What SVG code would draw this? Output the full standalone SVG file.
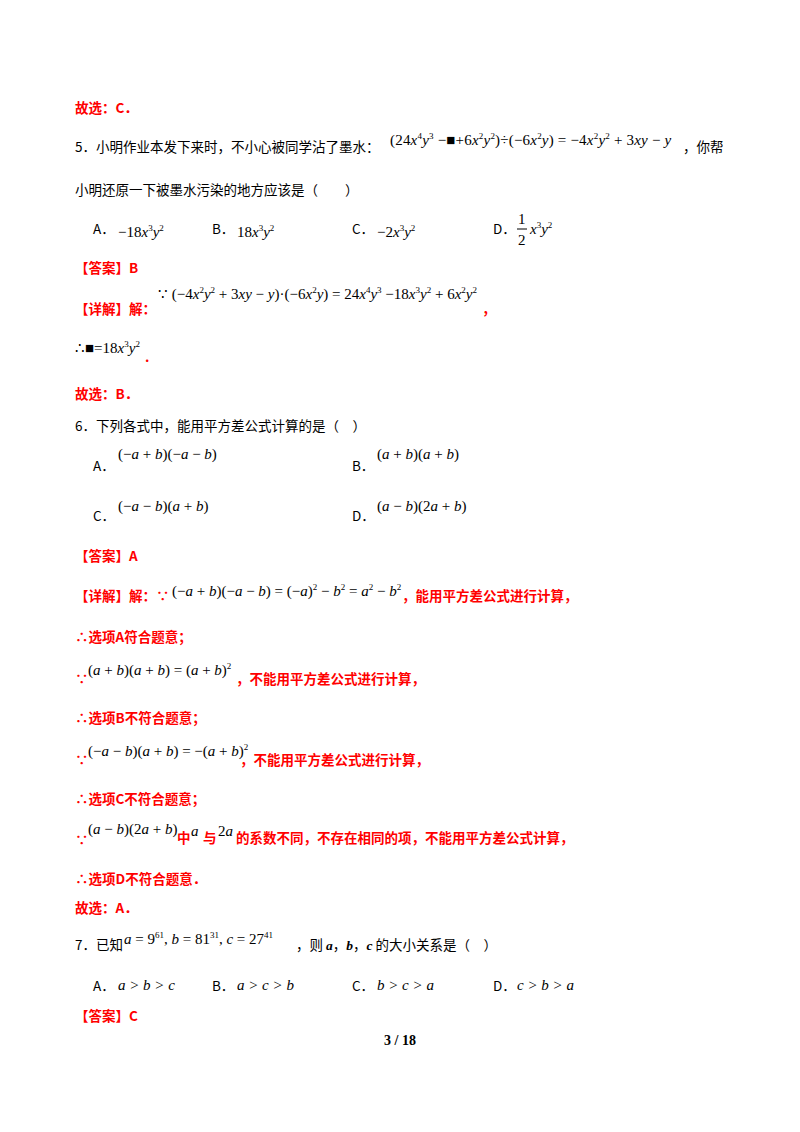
<svg xmlns="http://www.w3.org/2000/svg" width="800" height="1132" viewBox="0 0 800 1132">
<style>
.c{font-family:"Noto Sans CJK SC","Noto Sans",sans-serif;font-size:13.5px;fill:#000}
.r{fill:#ff0000;font-weight:bold}
.m{font-family:"Liberation Serif",serif;font-size:15px;fill:#000}
.i{font-style:italic}
.s{font-size:9px}
</style>
<rect width="800" height="1132" fill="#fff"/>
<text class="c r" x="75" y="113">故选：C．</text>
<text class="c" x="75" y="152">5．小明作业本发下来时，不小心被同学沾了墨水：</text>
<text class="m" x="390" y="145" letter-spacing="0.2">(24<tspan class="i">x</tspan><tspan class="s" dy="-6">4</tspan><tspan class="i" dy="6">y</tspan><tspan class="s" dy="-6">3</tspan><tspan dy="6"> −■+6</tspan><tspan class="i">x</tspan><tspan class="s" dy="-6">2</tspan><tspan class="i" dy="6">y</tspan><tspan class="s" dy="-6">2</tspan><tspan dy="6">)÷(−6</tspan><tspan class="i">x</tspan><tspan class="s" dy="-6">2</tspan><tspan class="i" dy="6">y</tspan>) = −4<tspan class="i">x</tspan><tspan class="s" dy="-6">2</tspan><tspan class="i" dy="6">y</tspan><tspan class="s" dy="-6">2</tspan><tspan dy="6"> + 3</tspan><tspan class="i">xy</tspan> − <tspan class="i">y</tspan></text>
<text class="c" x="683" y="152">，你帮</text>
<text class="c" x="75" y="195">小明还原一下被墨水污染的地方应该是（　　）</text>
<text class="c" x="93" y="234">A．</text>
<text class="m" x="118" y="237">−18<tspan class="i">x</tspan><tspan class="s" dy="-6">3</tspan><tspan class="i" dy="6">y</tspan><tspan class="s" dy="-6">2</tspan></text>
<text class="c" x="212" y="234">B．</text>
<text class="m" x="237" y="237">18<tspan class="i">x</tspan><tspan class="s" dy="-6">3</tspan><tspan class="i" dy="6">y</tspan><tspan class="s" dy="-6">2</tspan></text>
<text class="c" x="352" y="234">C．</text>
<text class="m" x="377" y="237">−2<tspan class="i">x</tspan><tspan class="s" dy="-6">3</tspan><tspan class="i" dy="6">y</tspan><tspan class="s" dy="-6">2</tspan></text>
<text class="c" x="493" y="234">D．</text>
<text class="m" x="518" y="224">1</text>
<line x1="517" y1="229" x2="527" y2="229" stroke="#000" stroke-width="1"/>
<text class="m" x="518" y="245">2</text>
<text class="m" x="530" y="234"><tspan class="i">x</tspan><tspan class="s" dy="-6">3</tspan><tspan class="i" dy="6">y</tspan><tspan class="s" dy="-6">2</tspan></text>
<text class="c r" x="75" y="273">【答案】B</text>
<text class="c r" x="75" y="314">【详解】解：</text>
<text class="m" x="158" y="299">∵ (−4<tspan class="i">x</tspan><tspan class="s" dy="-6">2</tspan><tspan class="i" dy="6">y</tspan><tspan class="s" dy="-6">2</tspan><tspan dy="6"> + 3</tspan><tspan class="i">xy</tspan> − <tspan class="i">y</tspan>)·(−6<tspan class="i">x</tspan><tspan class="s" dy="-6">2</tspan><tspan class="i" dy="6">y</tspan>) = 24<tspan class="i">x</tspan><tspan class="s" dy="-6">4</tspan><tspan class="i" dy="6">y</tspan><tspan class="s" dy="-6">3</tspan><tspan dy="6"> −18</tspan><tspan class="i">x</tspan><tspan class="s" dy="-6">3</tspan><tspan class="i" dy="6">y</tspan><tspan class="s" dy="-6">2</tspan><tspan dy="6"> + 6</tspan><tspan class="i">x</tspan><tspan class="s" dy="-6">2</tspan><tspan class="i" dy="6">y</tspan><tspan class="s" dy="-6">2</tspan></text>
<text class="c r" x="482" y="314">，</text>
<text class="m" x="75" y="353">∴■=18<tspan class="i">x</tspan><tspan class="s" dy="-6">3</tspan><tspan class="i" dy="6">y</tspan><tspan class="s" dy="-6">2</tspan></text>
<text class="c r" x="145" y="362">.</text>
<text class="c r" x="75" y="399">故选：B．</text>
<text class="c" x="75" y="431">6．下列各式中，能用平方差公式计算的是（　）</text>
<text class="c" x="93" y="471">A．</text>
<text class="m" x="118" y="459">(−<tspan class="i">a</tspan> + <tspan class="i">b</tspan>)(−<tspan class="i">a</tspan> − <tspan class="i">b</tspan>)</text>
<text class="c" x="352" y="471">B．</text>
<text class="m" x="377" y="459">(<tspan class="i">a</tspan> + <tspan class="i">b</tspan>)(<tspan class="i">a</tspan> + <tspan class="i">b</tspan>)</text>
<text class="c" x="93" y="521">C．</text>
<text class="m" x="118" y="511">(−<tspan class="i">a</tspan> − <tspan class="i">b</tspan>)(<tspan class="i">a</tspan> + <tspan class="i">b</tspan>)</text>
<text class="c" x="352" y="521">D．</text>
<text class="m" x="377" y="511">(<tspan class="i">a</tspan> − <tspan class="i">b</tspan>)(2<tspan class="i">a</tspan> + <tspan class="i">b</tspan>)</text>
<text class="c r" x="75" y="561">【答案】A</text>
<text class="c r" x="75" y="601">【详解】解：∵</text>
<text class="m" x="172" y="596">(−<tspan class="i">a</tspan> + <tspan class="i">b</tspan>)(−<tspan class="i">a</tspan> − <tspan class="i">b</tspan>) = (−<tspan class="i">a</tspan>)<tspan class="s" dy="-6">2</tspan><tspan dy="6"> − </tspan><tspan class="i">b</tspan><tspan class="s" dy="-6">2</tspan><tspan dy="6"> = </tspan><tspan class="i">a</tspan><tspan class="s" dy="-6">2</tspan><tspan dy="6"> − </tspan><tspan class="i">b</tspan><tspan class="s" dy="-6">2</tspan></text>
<text class="c r" x="402" y="601">，能用平方差公式进行计算，</text>
<text class="c r" x="75" y="642">∴选项A符合题意；</text>
<text class="c r" x="75" y="684">∵</text>
<text class="m" x="88" y="675">(<tspan class="i">a</tspan> + <tspan class="i">b</tspan>)(<tspan class="i">a</tspan> + <tspan class="i">b</tspan>) = (<tspan class="i">a</tspan> + <tspan class="i">b</tspan>)<tspan class="s" dy="-6">2</tspan></text>
<text class="c r" x="236" y="684">，不能用平方差公式进行计算，</text>
<text class="c r" x="75" y="723">∴选项B不符合题意；</text>
<text class="c r" x="75" y="765">∵</text>
<text class="m" x="88" y="756" font-size="14.5">(−<tspan class="i">a</tspan> − <tspan class="i">b</tspan>)(<tspan class="i">a</tspan> + <tspan class="i">b</tspan>) = −(<tspan class="i">a</tspan> + <tspan class="i">b</tspan>)<tspan class="s" dy="-6">2</tspan></text>
<text class="c r" x="240" y="765">，不能用平方差公式进行计算，</text>
<text class="c r" x="75" y="804">∴选项C不符合题意；</text>
<text class="c r" x="75" y="845">∵</text>
<text class="m" x="88" y="834">(<tspan class="i">a</tspan> − <tspan class="i">b</tspan>)(2<tspan class="i">a</tspan> + <tspan class="i">b</tspan>)</text>
<text class="c r" x="177" y="843">中</text>
<text class="m i" x="191" y="836" font-size="17">a</text>
<text class="c r" x="203" y="843">与</text>
<text class="m" x="218" y="836" font-size="17">2<tspan class="i">a</tspan></text>
<text class="c r" x="236" y="843">的系数不同，不存在相同的项，不能用平方差公式计算，</text>
<text class="c r" x="75" y="884">∴选项D不符合题意．</text>
<text class="c r" x="75" y="913">故选：A．</text>
<text class="c" x="75" y="950">7．已知</text>
<text class="m" x="124" y="944"><tspan class="i">a</tspan> = 9<tspan class="s" dy="-6">61</tspan><tspan dy="6">, </tspan><tspan class="i">b</tspan> = 81<tspan class="s" dy="-6">31</tspan><tspan dy="6">, </tspan><tspan class="i">c</tspan> = 27<tspan class="s" dy="-6">41</tspan></text>
<text class="c" x="296" y="950">，则 <tspan font-family="Liberation Serif" font-style="italic" font-weight="bold">a</tspan>，<tspan font-family="Liberation Serif" font-style="italic" font-weight="bold">b</tspan>，<tspan font-family="Liberation Serif" font-style="italic" font-weight="bold">c</tspan> 的大小关系是（　）</text>
<text class="c" x="93" y="991">A．</text>
<text class="m i" x="118" y="990">a &gt; b &gt; c</text>
<text class="c" x="212" y="991">B．</text>
<text class="m i" x="237" y="990">a &gt; c &gt; b</text>
<text class="c" x="352" y="991">C．</text>
<text class="m i" x="377" y="990">b &gt; c &gt; a</text>
<text class="c" x="493" y="991">D．</text>
<text class="m i" x="517" y="990">c &gt; b &gt; a</text>
<text class="c r" x="75" y="1021">【答案】C</text>
<text x="400" y="1045" text-anchor="middle" font-family="Liberation Serif,serif" font-weight="bold" font-size="14">3 / 18</text>
</svg>
